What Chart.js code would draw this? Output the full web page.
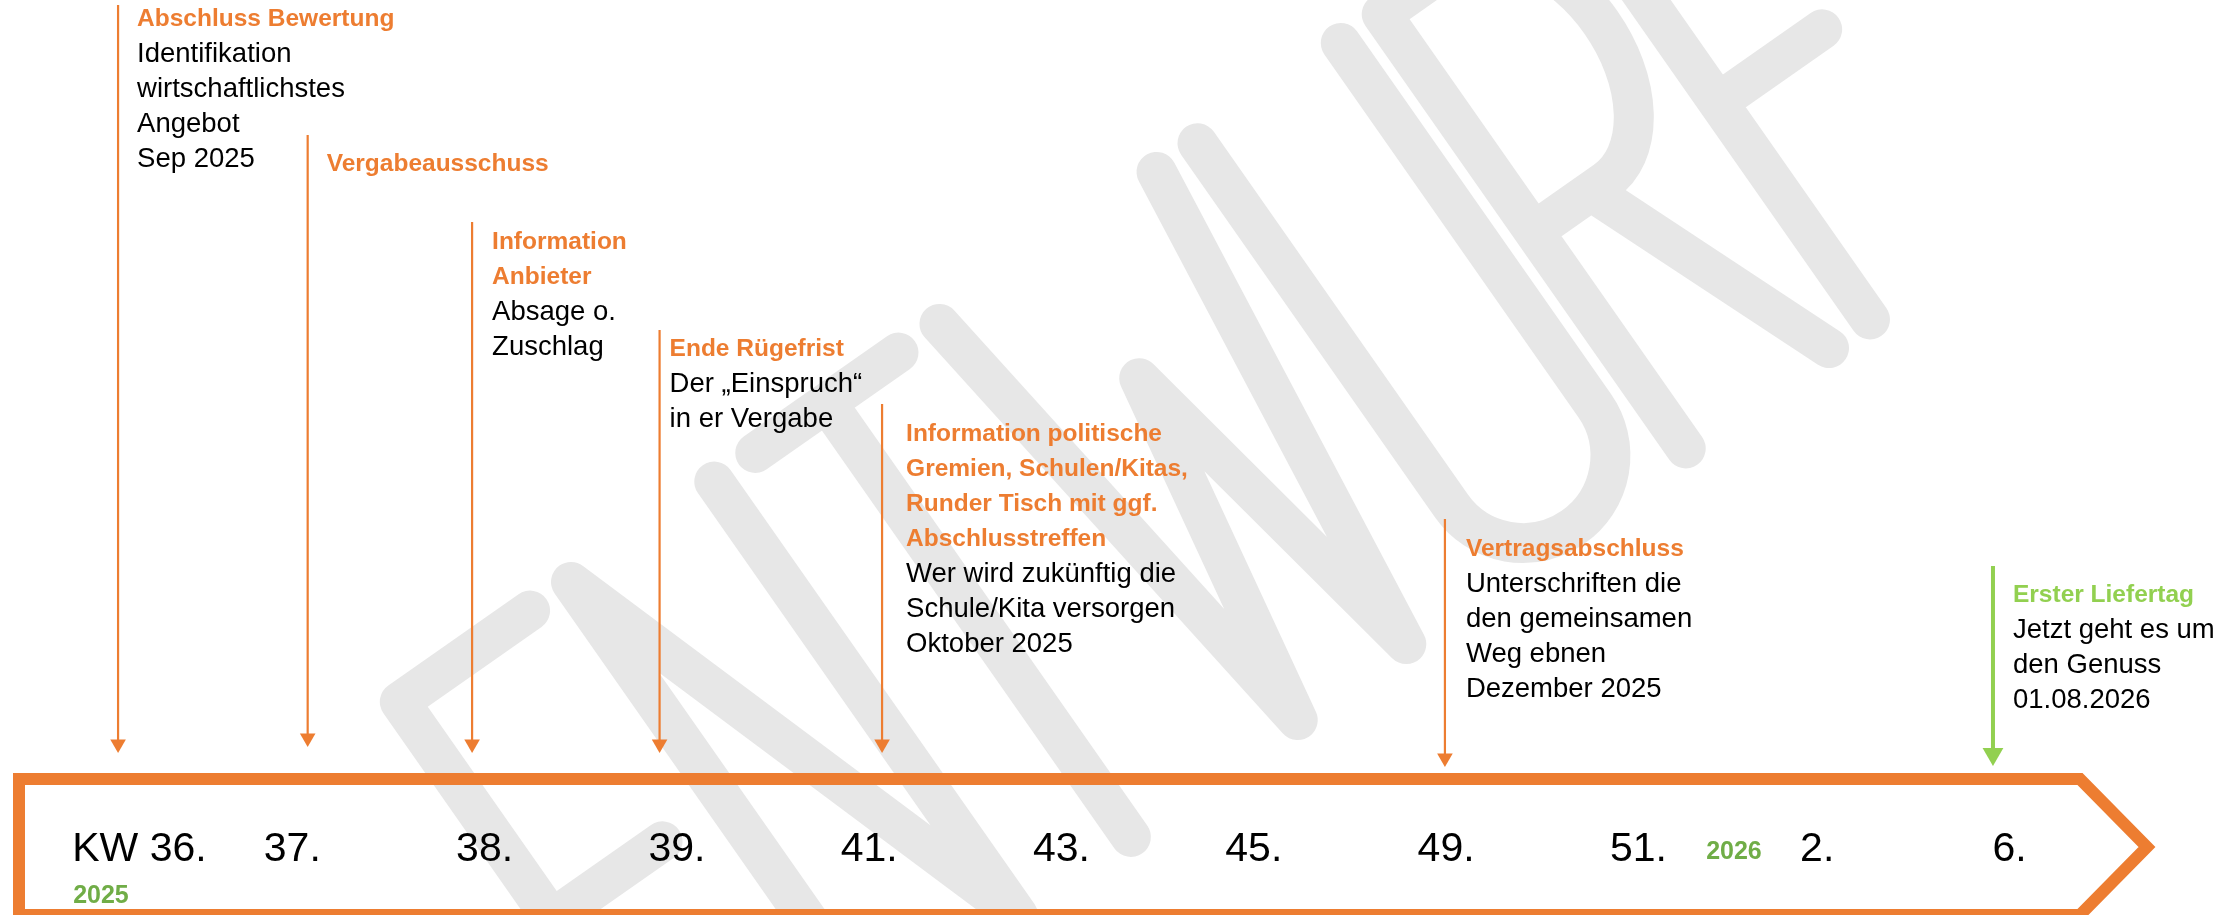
<!DOCTYPE html>
<html><head><meta charset="utf-8">
<script src="https://cdn.jsdelivr.net/npm/chart.js@4.4.1/dist/chart.umd.min.js"></script>
<style>html,body{margin:0;padding:0;background:#fff;overflow:hidden}#wrap{width:2237px;height:915px;position:relative}</style>
</head><body><div id="wrap"><canvas id="c" width="2237" height="915"></canvas></div>
<script>
// ---------- data ----------
const weekLabels = ['KW 36.', '37.', '38.', '39.', '41.', '43.', '45.', '49.', '51.', '2.', '6.'];
const weekPos = [0.205, 1, 2, 3, 4, 5, 6, 7, 8, 8.93, 9.93];
const yearLabels = ['2025', '2026'];
const yearPos = [0.005, 8.497];
const eventPos = [0.094, 1.08, 1.935, 2.91, 4.067, 6.994, 9.844];
const eventTitles = [
  ['Abschluss Bewertung'],
  ['Vergabeausschuss'],
  ['Information', 'Anbieter'],
  ['Ende Rügefrist'],
  ['Information politische', 'Gremien, Schulen/Kitas,', 'Runder Tisch mit ggf.', 'Abschlusstreffen'],
  ['Vertragsabschluss'],
  ['Erster Liefertag']
];
const eventTexts = [
  ['Identifikation', 'wirtschaftlichstes', 'Angebot', 'Sep 2025'],
  [],
  ['Absage o.', 'Zuschlag'],
  ['Der „Einspruch“', 'in er Vergabe'],
  ['Wer wird zukünftig die', 'Schule/Kita versorgen', 'Oktober 2025'],
  ['Unterschriften die', 'den gemeinsamen', 'Weg ebnen', 'Dezember 2025'],
  ['Jetzt geht es um', 'den Genuss', '01.08.2026']
];
const watermarkText = 'ENTWURF';

// ---------- layout & style ----------
const ORANGE = '#ED7D31', GREEN = '#92D050', DKGREEN = '#70AD47';
const FONT = "'Liberation Sans', Arial, sans-serif";
const LAYOUT = {
  xMin: -0.52, xMax: 11.113,
  arrowTop: [5, 135, 222, 330, 404, 519, 566],
  arrowTip: [753, 747, 753, 753, 753, 767, 766],
  textDx: [19, 19, 20, 10, 24, 21, 20],
  firstLineY: [18, 163, 241, 348, 433, 548, 594],
  lineGap: 35,
  tickY: 848, yearY: [895, 851],
  frame: { left: 19, top: 779, bottom: 915, corner: 2080, tipX: 2147, tipY: 847, width: 12 },
  wm: { cx: 1200, cy: 465, angle: -35, h: 530, stroke: 40, gap: 50, color: '#e7e7e7',
        widths: { E: .3, N: .33, T: .33, W: .5, U: .33, R: .33, F: .3 } }
};
const eventColor = i => (i === eventPos.length - 1 ? GREEN : ORANGE);

// ---------- watermark letters (skeleton strokes) ----------
function letterPath(ctx, ch, x0, w, H) {
  const t = -H / 2, b = H / 2, m = 0;
  ctx.beginPath();
  switch (ch) {
    case 'E':
      ctx.moveTo(x0 + w, t); ctx.lineTo(x0, t); ctx.lineTo(x0, b); ctx.lineTo(x0 + w, b);
      ctx.moveTo(x0, m); ctx.lineTo(x0 + 0.85 * w, m); break;
    case 'N':
      ctx.moveTo(x0, b); ctx.lineTo(x0, t); ctx.lineTo(x0 + w, b); ctx.lineTo(x0 + w, t); break;
    case 'T':
      ctx.moveTo(x0, t); ctx.lineTo(x0 + w, t); ctx.moveTo(x0 + w / 2, t); ctx.lineTo(x0 + w / 2, b); break;
    case 'W':
      ctx.moveTo(x0, t); ctx.lineTo(x0 + 0.25 * w, b); ctx.lineTo(x0 + 0.5 * w, t + 0.3 * H);
      ctx.lineTo(x0 + 0.75 * w, b); ctx.lineTo(x0 + w, t); break;
    case 'U':
      ctx.moveTo(x0, t); ctx.lineTo(x0, b - w / 2);
      ctx.arc(x0 + w / 2, b - w / 2, w / 2, Math.PI, 0, true); ctx.lineTo(x0 + w, t); break;
    case 'R':
      ctx.moveTo(x0, b); ctx.lineTo(x0, t); ctx.lineTo(x0 + 0.5 * w, t);
      ctx.ellipse(x0 + 0.5 * w, t + H / 4, 0.5 * w, H / 4, 0, -Math.PI / 2, Math.PI / 2, false);
      ctx.lineTo(x0, m); ctx.moveTo(x0 + 0.4 * w, m); ctx.lineTo(x0 + w, b); break;
    case 'F':
      ctx.moveTo(x0 + w, t); ctx.lineTo(x0, t); ctx.lineTo(x0, b);
      ctx.moveTo(x0, m); ctx.lineTo(x0 + 0.8 * w, m); break;
  }
  ctx.stroke();
}

const backgroundPlugin = {
  id: 'bg',
  beforeDraw(chart) {
    const ctx = chart.ctx, W = LAYOUT.wm;
    ctx.save();
    ctx.fillStyle = '#ffffff';
    ctx.fillRect(0, 0, chart.width, chart.height);
    ctx.translate(W.cx, W.cy);
    ctx.rotate(W.angle * Math.PI / 180);
    ctx.strokeStyle = W.color; ctx.lineWidth = W.stroke;
    ctx.lineCap = 'round'; ctx.lineJoin = 'round';
    const letters = watermarkText.split('');
    const total = letters.reduce((s, c) => s + W.widths[c] * W.h, 0) + W.gap * (letters.length - 1);
    let x = -total / 2;
    letters.forEach(c => { const w = W.widths[c] * W.h; letterPath(ctx, c, x, w, W.h); x += w + W.gap; });
    ctx.restore();

    // timeline frame (chevron)
    const f = LAYOUT.frame;
    ctx.save();
    ctx.strokeStyle = ORANGE; ctx.lineWidth = f.width; ctx.lineJoin = 'miter';
    ctx.beginPath();
    ctx.moveTo(f.left, f.top); ctx.lineTo(f.corner, f.top); ctx.lineTo(f.tipX, f.tipY);
    ctx.lineTo(f.corner, f.bottom); ctx.lineTo(f.left, f.bottom); ctx.closePath();
    ctx.stroke();
    ctx.restore();
  }
};

const textPlugin = {
  id: 'texts',
  afterDatasetsDraw(chart) {
    const ctx = chart.ctx, xs = chart.scales.x, ys = chart.scales.y;
    ctx.save();
    ctx.textBaseline = 'middle';
    // week ticks
    ctx.font = `41px ${FONT}`; ctx.fillStyle = '#000'; ctx.textAlign = 'center';
    weekLabels.forEach((l, i) => ctx.fillText(l, xs.getPixelForValue(weekPos[i]), ys.getPixelForValue(LAYOUT.tickY) + 2));
    // year labels
    ctx.font = `bold 25px ${FONT}`; ctx.fillStyle = DKGREEN;
    yearLabels.forEach((l, i) => ctx.fillText(l, xs.getPixelForValue(yearPos[i]), ys.getPixelForValue(LAYOUT.yearY[i]) + 1));
    // event texts
    ctx.textAlign = 'left';
    eventPos.forEach((p, i) => {
      const x = xs.getPixelForValue(p) + LAYOUT.textDx[i];
      let y = LAYOUT.firstLineY[i];
      ctx.font = `bold 24.5px ${FONT}`; ctx.fillStyle = eventColor(i);
      eventTitles[i].forEach(t => { ctx.fillText(t, x, ys.getPixelForValue(y) + 1); y += LAYOUT.lineGap; });
      ctx.font = `27.5px ${FONT}`; ctx.fillStyle = '#000';
      eventTexts[i].forEach(t => { ctx.fillText(t, x, ys.getPixelForValue(y) + 1); y += LAYOUT.lineGap; });
    });
    ctx.restore();
  }
};

const datasets = eventPos.map((p, i) => {
  const col = eventColor(i);
  const r = i === eventPos.length - 1 ? 12 : 9;
  return {
    label: eventTitles[i].join(' '),
    data: [{ x: p, y: LAYOUT.arrowTop[i] }, { x: p, y: LAYOUT.arrowTip[i] - r }],
    showLine: true,
    borderColor: col,
    borderWidth: i === eventPos.length - 1 ? 4 : 2.2,
    pointStyle: 'triangle',
    pointRotation: 180,
    pointRadius: [0, r],
    pointHoverRadius: [0, r],
    pointBackgroundColor: col,
    pointBorderColor: col,
    pointBorderWidth: 0,
    clip: false
  };
});

new Chart(document.getElementById('c'), {
  type: 'scatter',
  data: { datasets },
  options: {
    responsive: false,
    devicePixelRatio: 1,
    animation: false,
    events: [],
    layout: { padding: 0, autoPadding: false },
    plugins: { legend: { display: false }, tooltip: { enabled: false } },
    scales: {
      x: { type: 'linear', min: LAYOUT.xMin, max: LAYOUT.xMax, display: false },
      y: { type: 'linear', min: 0, max: 915, reverse: true, display: false }
    }
  },
  plugins: [backgroundPlugin, textPlugin]
});
</script>
</body></html>
